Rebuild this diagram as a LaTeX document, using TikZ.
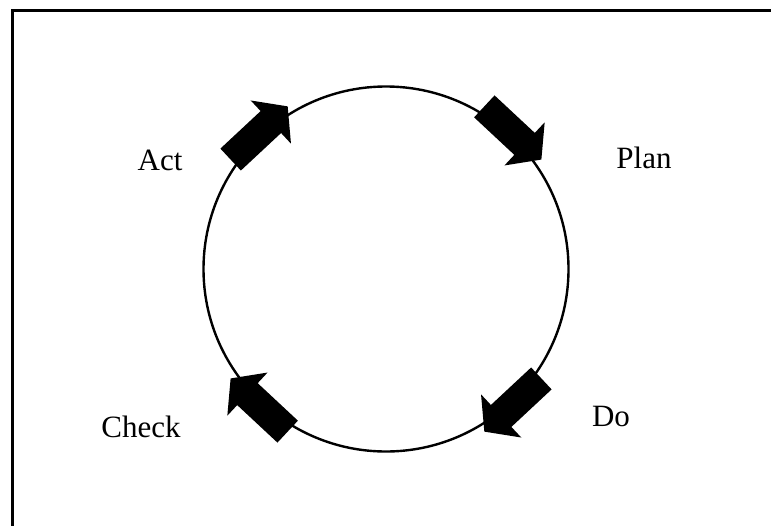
\documentclass[tikz,border=0pt]{standalone}
\usepackage{fontspec}
\setmainfont{Liberation Serif}
\begin{document}
\begin{tikzpicture}[x=1pt,y=1pt,
  lbl/.style={inner sep=0pt, font=\fontsize{31}{36}\selectfont},
  blockarrow/.style={fill=black, draw=none}]
\useasboundingbox (0,-525) rectangle (771,0);
\begin{scope}
  \clip (0,-525) rectangle (771,0);
  \draw[line width=3pt] (12.5,-600) -- (12.5,-10.5) -- (800,-10.5);
\end{scope}
\coordinate (c) at (386,-269);
\draw[line width=2.4pt] (c) circle[radius=182.5];
\foreach \ang in {47,-47,133,-133}{
  \begin{scope}[shift={(c)}, shift={(\ang:186)}, rotate=\ang-90]
    \fill[blockarrow] (-39,-15) -- (16,-15) -- (16,-29.5) -- (39,0) -- (16,29.5) -- (16,15) -- (-39,15) -- cycle;
  \end{scope}
}
\node[lbl] (act) at (160,-160) {Act};
\node[lbl] (plan) at (644,-158) {Plan};
\node[lbl] (check) at (141,-427) {Check};
\node[lbl] (do) at (611,-416) {Do};
\end{tikzpicture}
\end{document}
